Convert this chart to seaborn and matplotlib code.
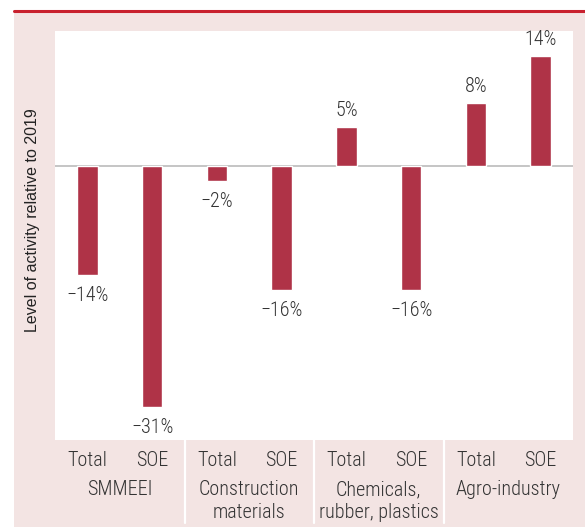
import matplotlib
matplotlib.use("Agg")
import matplotlib.pyplot as plt
import matplotlib.transforms as mtransforms
from matplotlib import font_manager
from matplotlib.patches import Rectangle
from matplotlib.lines import Line2D
import seaborn as sns
import pandas as pd

groups = ["SMMEEI", "Construction\nmaterials", "Chemicals,\nrubber, plastics", "Agro-industry"]
series = ["Total", "SOE"]
total_values = [-14, -2, 5, 8]
soe_values = [-31, -16, -16, 14]

rows = []
for g, t, s in zip(groups, total_values, soe_values):
    rows.append({"key": g + "|Total", "value": t, "series": "Total"})
    rows.append({"key": g + "|SOE", "value": s, "series": "SOE"})
df = pd.DataFrame(rows)

sns.set_theme(style="white")
installed = {f.name for f in font_manager.fontManager.ttflist}
narrow = sorted(n for n in installed if ("Narrow" in n or "Condensed" in n))
fam = []
for cand in ["Liberation Sans Narrow", "Roboto Condensed", "Open Sans Condensed"] + narrow:
    if cand in installed and cand not in fam:
        fam.append(cand)
fam += ["Liberation Sans", "DejaVu Sans"]
plt.rcParams['font.family'] = fam
narrow_ok = fam[0] not in ("Liberation Sans", "DejaVu Sans")
plt.rcParams['font.weight'] = 'light'

W, H = 585, 531
fig = plt.figure(figsize=(W / 100, H / 100), dpi=100)
fig.patch.set_facecolor("white")

# pink panel and red top rule
bg = Rectangle((14 / W, 1 - 527 / H), (W - 14) / W, (527 - 13) / H,
               transform=fig.transFigure, facecolor="#F3E4E3",
               edgecolor="none", zorder=-10)
fig.patches.append(bg)
fig.lines.append(Line2D([14 / W, 1], [1 - 11 / H, 1 - 11 / H], transform=fig.transFigure,
                        color="#C8202E", lw=2.2, zorder=-5))

left, right, top, bottom = 55, 573, 31, 440
ax = fig.add_axes([left / W, 1 - bottom / H, (right - left) / W, (bottom - top) / H])
ax.set_zorder(5)
ax.set_facecolor("white")

bar_color = "#AF3347"
sns.barplot(data=df, x="key", y="value", color=bar_color, width=0.32,
            saturation=1, ax=ax, errorbar=None)

ax.set_xlim(-0.5, 7.5)
ax.set_ylim(-35.2, 17.25)
ax.axhline(0, color="#BBBBBB", lw=1.2, zorder=0.5)

for sp in ax.spines.values():
    sp.set_visible(False)
ax.set_yticks([])
ax.set_xlabel("")
ax.set_ylabel("")

txt_color = "#333333"
fs = 14.5 if narrow_ok else 12
ax.set_xticks(range(8))
ax.set_xticklabels(series * 4, fontsize=fs, color=txt_color, fontweight="light")
ax.tick_params(axis="x", length=0, pad=8)

for i, v in enumerate(df["value"]):
    lab = ("\u2212" if v < 0 else "") + f"{abs(v)}%"
    if v >= 0:
        ax.annotate(lab, (i, v), xytext=(0, 5), textcoords="offset points",
                    ha="center", va="bottom", fontsize=fs, color=txt_color,
                    fontweight="light")
    else:
        ax.annotate(lab, (i, v), xytext=(0, -8), textcoords="offset points",
                    ha="center", va="top", fontsize=fs, color=txt_color,
                    fontweight="light")

trans = mtransforms.blended_transform_factory(ax.transData, fig.transFigure)
for gi, g in enumerate(groups):
    ax.text(gi * 2 + 0.5, 1 - 480 / H, g, transform=trans, ha="center", va="top",
            fontsize=fs, color=txt_color, linespacing=1.25, fontweight="light")
for xs in [1.5, 3.5, 5.5]:
    ax.add_line(Line2D([xs, xs], [1 - 440 / H, 1 - 523 / H], transform=trans,
                       color="white", lw=1.6, clip_on=False))

fig.text(33 / W, 1 - 220 / H, "Level of activity relative to 2019", rotation=90,
         ha="center", va="center", fontsize=11.5,
         family=["Liberation Sans", "DejaVu Sans"], fontweight="normal",
         color="#222222")

fig.savefig("out.png", dpi=100)
